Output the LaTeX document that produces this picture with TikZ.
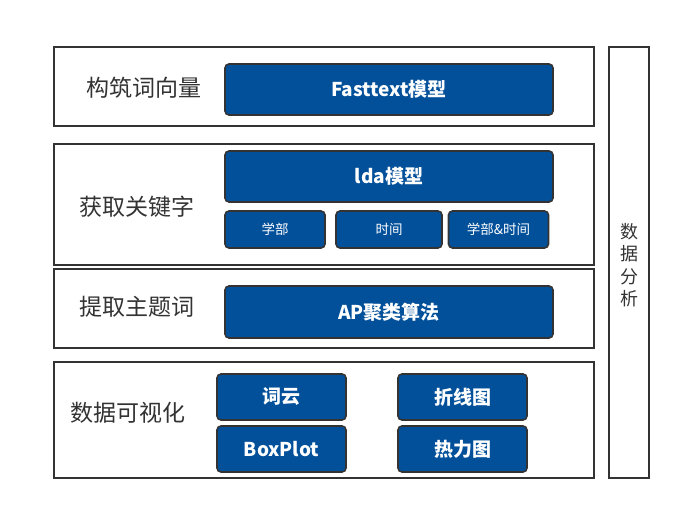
\documentclass[tikz,border=0pt]{standalone}
\usepackage{fontspec}
\setmainfont{Noto Sans CJK SC}
\definecolor{boxblue}{HTML}{024F9A}
\definecolor{edge}{HTML}{333333}
\begin{document}
\begin{tikzpicture}[x=1pt,y=-1pt,
  layer/.style={draw=edge,line width=2pt},
  bluebox/.style={draw=edge,line width=1.6pt,fill=boxblue,rounded corners=4pt,text=white},
  bigtxt/.style={font=\fontsize{19}{22}\selectfont\bfseries},
  smalltxt/.style={font=\fontsize{13.5}{16}\selectfont},
  lbl/.style={text=edge,font=\fontsize{23}{27}\selectfont}]
\useasboundingbox (0,0) rectangle (681,510);
\fill[white] (0,0) rectangle (681,510);
% layers
\draw[layer] (54,47) rectangle (594,126);
\draw[layer] (54,144) rectangle (594,265);
\draw[layer] (54,269) rectangle (594,348);
\draw[layer] (54,362) rectangle (594,478);
\draw[layer] (609,47) rectangle (649,478);
% labels
\node[lbl] (l1) at (144,88) {构筑词向量};
\node[lbl] (l2) at (137,207) {获取关键字};
\node[lbl] (l3) at (137,307) {提取主题词};
\node[lbl] (l4) at (128,413) {数据可视化};
\node[text=edge,font=\fontsize{18}{22.5}\selectfont,align=center] (l5) at (629,265) {数\\据\\分\\析};
% blue boxes
\node[bluebox,bigtxt,minimum width=328pt,minimum height=51pt] (ft) at (389,89.5) {Fasttext模型};
\node[bluebox,bigtxt,minimum width=328pt,minimum height=51pt] (lda) at (389,176.5) {lda模型};
\node[bluebox,smalltxt,minimum width=100pt,minimum height=37pt] (xb) at (275,229.5) {学部};
\node[bluebox,smalltxt,minimum width=106pt,minimum height=37pt] (sj) at (389,229.5) {时间};
\node[bluebox,smalltxt,minimum width=100pt,minimum height=37pt] (xs) at (498.5,229.5) {学部\&时间};
\node[bluebox,bigtxt,minimum width=328pt,minimum height=52pt] (ap) at (389,312) {AP聚类算法};
\node[bluebox,bigtxt,minimum width=129pt,minimum height=46pt] (cy) at (281.5,397) {词云};
\node[bluebox,bigtxt,minimum width=129pt,minimum height=46pt] (bp) at (281.5,449) {BoxPlot};
\node[bluebox,bigtxt,minimum width=129pt,minimum height=46pt] (zx) at (462.5,397) {折线图};
\node[bluebox,bigtxt,minimum width=129pt,minimum height=46pt] (rl) at (462.5,449) {热力图};
\end{tikzpicture}
\end{document}
